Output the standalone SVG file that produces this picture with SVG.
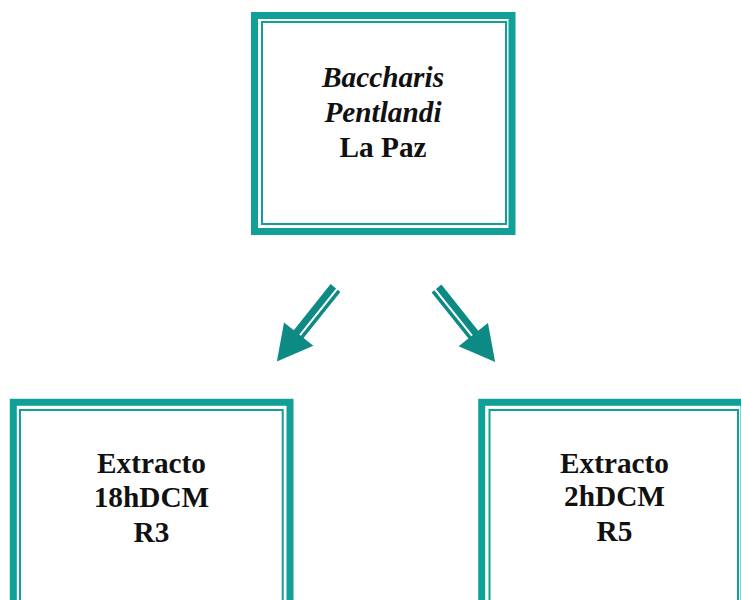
<svg xmlns="http://www.w3.org/2000/svg" width="741" height="600" viewBox="0 0 741 600">
<defs>
<style>
.outer{fill:#ffffff;stroke:#11a098;stroke-width:7}
.inner{fill:none;stroke:#11a098;stroke-width:2}
.t{font-family:"Liberation Serif","Times New Roman",serif;font-size:29.3px;font-weight:bold;fill:#111111;text-anchor:middle}
.i{font-style:italic}
.arr{fill:#0e8a84}
</style>
<g id="arrowShape">
<path class="arr" d="M-6.25,0 H0.75 V60 H-6.25 Z"/>
<path class="arr" d="M2.75,0 H6.25 V60 H2.75 Z"/>
<path class="arr" d="M-18.75,59 H18.75 L0,94 Z"/>
</g>
</defs>
<rect width="741" height="600" fill="#ffffff"/>
<g id="node-top">
<rect class="outer" x="254.5" y="15.5" width="257.5" height="216"/>
<rect class="inner" x="262" y="22" width="244" height="202"/>
<text class="t i" x="383" y="86.5">Baccharis</text>
<text class="t i" x="383" y="121.5">Pentlandi</text>
<text class="t" x="383" y="156.5">La Paz</text>
</g>
<g id="node-left">
<rect class="outer" x="13.3" y="402.3" width="276.7" height="230"/>
<rect class="inner" x="20" y="410" width="262.7" height="230"/>
<text class="t" x="151.5" y="472.7">Extracto</text>
<text class="t" x="151.5" y="506.7">18hDCM</text>
<text class="t" x="151.5" y="541.5">R3</text>
</g>
<g id="node-right">
<rect class="outer" x="481.7" y="402.3" width="262.3" height="230"/>
<rect class="inner" x="489.5" y="410" width="248.5" height="230"/>
<text class="t" x="614.5" y="472.7">Extracto</text>
<text class="t" x="614.5" y="506">2hDCM</text>
<text class="t" x="614.5" y="540.5">R5</text>
</g>
<g id="connectors">
<use href="#arrowShape" transform="translate(335.5,288) rotate(38.6)"/>
<use href="#arrowShape" transform="translate(436.5,288.5) rotate(-38.6) scale(-1,1)"/>
</g>
</svg>
